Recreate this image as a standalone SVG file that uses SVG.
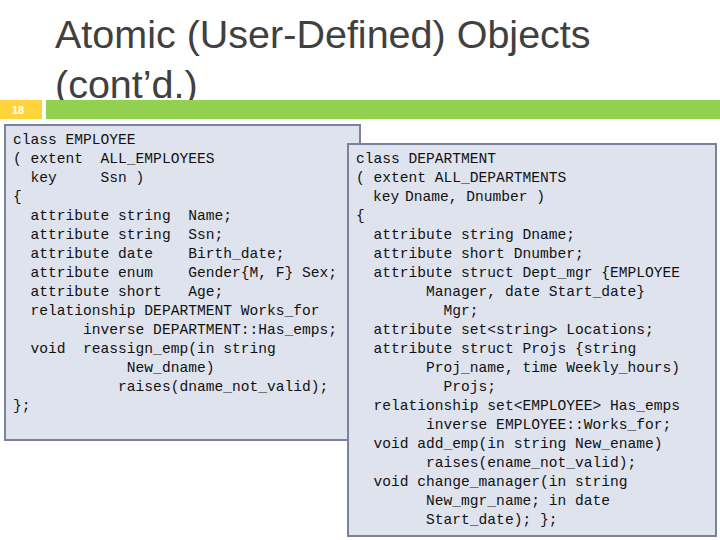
<svg xmlns="http://www.w3.org/2000/svg" width="720" height="540" viewBox="0 0 720 540">
<style>
.t{font-family:"Liberation Sans",Arial,sans-serif;font-size:39.5px;fill:#404040}
.c{font-family:"Liberation Mono","Courier New",monospace;font-size:14.6px;fill:#111;white-space:pre}
.box{fill:#dee3ee;stroke:#7a8399;stroke-width:2}
</style>
<rect width="720" height="540" fill="#fff"/>
<g id="title">
<text class="t" x="55" y="48">Atomic (User-Defined) Objects</text>
<text class="t" x="55" y="98">(cont’d.)</text>
</g>
<g id="header">
<rect x="0" y="100" width="42" height="19" fill="#ffd43b"/>
<text x="12" y="114" font-family="Liberation Sans,sans-serif" font-size="11" font-weight="bold" fill="#fff">18</text>
<rect x="46" y="100" width="674" height="19" fill="#92d050"/>
</g>
<g id="employee">
<rect class="box" x="5" y="125" width="355" height="315"/>
<text class="c" xml:space="preserve"><tspan x="13" y="144">class EMPLOYEE</tspan><tspan x="13" y="163">( extent  ALL_EMPLOYEES</tspan><tspan x="13" y="182">  key     Ssn )</tspan><tspan x="13" y="201">{</tspan><tspan x="13" y="220">  attribute string  Name;</tspan><tspan x="13" y="239">  attribute string  Ssn;</tspan><tspan x="13" y="258">  attribute date    Birth_date;</tspan><tspan x="13" y="277">  attribute enum    Gender{M, F} Sex;</tspan><tspan x="13" y="296">  attribute short   Age;</tspan><tspan x="13" y="315">  relationship DEPARTMENT Works_for</tspan><tspan x="13" y="334">        inverse DEPARTMENT::Has_emps;</tspan><tspan x="13" y="353">  void  reassign_emp(in string</tspan><tspan x="13" y="372">             New_dname)</tspan><tspan x="13" y="391">            raises(dname_not_valid);</tspan><tspan x="13" y="410">};</tspan></text>
</g>
<g id="department">
<rect class="box" x="348" y="144" width="368" height="392"/>
<text class="c" xml:space="preserve"><tspan x="356" y="163">class DEPARTMENT</tspan><tspan x="356" y="182">( extent ALL_DEPARTMENTS</tspan><tspan x="373" y="201">key</tspan><tspan x="405" y="201">Dname, Dnumber )</tspan><tspan x="356" y="220">{</tspan><tspan x="356" y="239">  attribute string Dname;</tspan><tspan x="356" y="258">  attribute short Dnumber;</tspan><tspan x="356" y="277">  attribute struct Dept_mgr {EMPLOYEE</tspan><tspan x="356" y="296">        Manager, date Start_date}</tspan><tspan x="356" y="315">          Mgr;</tspan><tspan x="356" y="334">  attribute set&lt;string&gt; Locations;</tspan><tspan x="356" y="353">  attribute struct Projs {string</tspan><tspan x="356" y="372">        Proj_name, time Weekly_hours)</tspan><tspan x="356" y="391">          Projs;</tspan><tspan x="356" y="410">  relationship set&lt;EMPLOYEE&gt; Has_emps</tspan><tspan x="356" y="429">        inverse EMPLOYEE::Works_for;</tspan><tspan x="356" y="448">  void add_emp(in string New_ename)</tspan><tspan x="356" y="467">        raises(ename_not_valid);</tspan><tspan x="356" y="486">  void change_manager(in string</tspan><tspan x="356" y="505">        New_mgr_name; in date</tspan><tspan x="356" y="524">        Start_date); };</tspan></text>
</g>
<g id="connectors"/>
</svg>
